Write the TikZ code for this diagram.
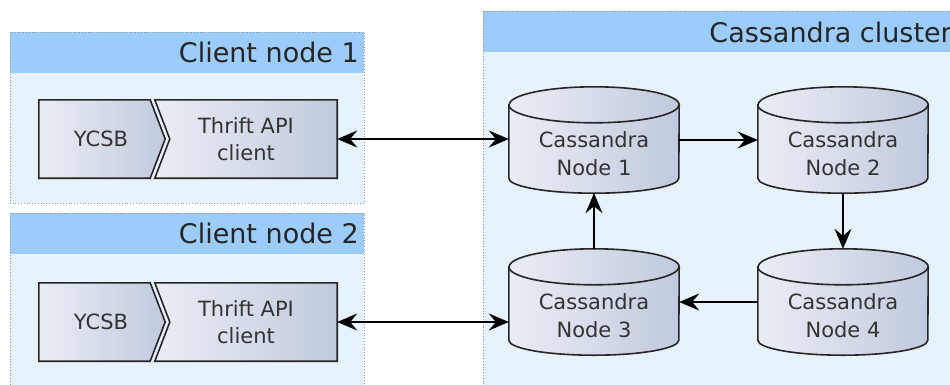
\documentclass[tikz,border=0pt]{standalone}
\usepackage{fontspec}
\setmainfont{DejaVu Sans}
\usetikzlibrary{arrows.meta, positioning}
\definecolor{headblue}{RGB}{155,204,250}
\definecolor{bodyblue}{RGB}{230,243,253}
\definecolor{partlight}{RGB}{234,237,244}
\definecolor{partdark}{RGB}{192,202,222}
\definecolor{framegray}{RGB}{140,150,160}

\begin{document}
\begin{tikzpicture}[x=1pt, y=-1pt,
  headtext/.style={font=\fontsize{27}{30}\selectfont, text=black!85, anchor=east, inner sep=0pt},
  part/.style={minimum height=78pt, inner sep=0pt, font=\fontsize{21}{27}\selectfont, text=black!80, align=center},
  partfill/.style={line width=1.6pt, draw=black!85, left color=partlight, right color=partdark},
  cass/.style={minimum width=170pt, minimum height=106pt, inner sep=0pt},
  casstext/.style={font=\fontsize{21}{28}\selectfont, text=black!80, align=center},
  link/.style={line width=1.6pt, -{Stealth[length=20pt, width=17pt, inset=7pt]}},
  biglink/.style={line width=1.6pt, {Stealth[length=20pt, width=17pt, inset=7pt]}-{Stealth[length=20pt, width=17pt, inset=7pt]}}]
  \path[use as bounding box, clip] (0,0) rectangle (950,384);

  % groups
  \foreach \top/\bot/\left/\right in {32/203/10/364, 213/400/10/364, 11/400/483/960}{
    \fill[bodyblue] (\left,\top) rectangle (\right,\bot);
    \fill[headblue] (\left,\top) rectangle (\right,\top+41);
    \draw[framegray, dotted, line width=0.8pt] (\left,\top) rectangle (\right,\bot);
  }
  \node[headtext] (head1) at (359,52) {Client node 1};
  \node[headtext] (head2) at (359,233) {Client node 2};
  \node[headtext] (headc) at (952,32) {Cassandra cluster};

  % client parts
  \node[part, minimum width=126pt] (y1) at (102,139) {};
  \node[part, minimum width=182pt] (t1) at (246,139) {};
  \node[part, minimum width=126pt] (y2) at (102,322) {};
  \node[part, minimum width=182pt] (t2) at (246,322) {};
  \foreach \n in {1,2}{
    \path[partfill] (y\n.north west) -- ([xshift=-15pt]y\n.north east) -- (y\n.east)
      -- ([xshift=-15pt]y\n.south east) -- (y\n.south west) -- cycle;
    \path[partfill] (t\n.north west) -- (t\n.north east) -- (t\n.south east)
      -- (t\n.south west) -- ([xshift=15pt]t\n.west) -- cycle;
    \node[part] (y\n text) at ([xshift=-1pt]y\n.center) {YCSB};
    \node[part] (t\n text) at (t\n.center) {Thrift API\\client};
  }

  % cassandra nodes
  \node[cass] (c1) at (594,140) {};
  \node[cass] (c2) at (843,140) {};
  \node[cass] (c3) at (594,302) {};
  \node[cass] (c4) at (843,302) {};
  \foreach \n in {1,...,4}{
    \path[partfill] ([yshift=-18pt]c\n.north west) -- ([yshift=15pt]c\n.south west)
      arc[start angle=180, end angle=360, x radius=85pt, y radius=15pt]
      -- ([yshift=-18pt]c\n.north east)
      arc[start angle=0, end angle=180, x radius=85pt, y radius=18pt] -- cycle;
    \draw[line width=1.6pt, black!85] ([yshift=-18pt]c\n.north west)
      arc[start angle=180, end angle=360, x radius=85pt, y radius=18pt];
    \node[casstext] (c\n text) at ([yshift=-14pt]c\n.center) {Cassandra\\Node \n};
  }

  % links
  \draw[biglink] (t1.east) -- (t1.east -| c1.west);
  \draw[biglink] (t2.east) -- (t2.east -| c3.west);
  \draw[link] (c1.east) -- (c2.west);
  \draw[link] (c2.south) -- (c4.north);
  \draw[link] (c4.west) -- (c3.east);
  \draw[link] (c3.north) -- (c1.south);
\end{tikzpicture}
\end{document}
